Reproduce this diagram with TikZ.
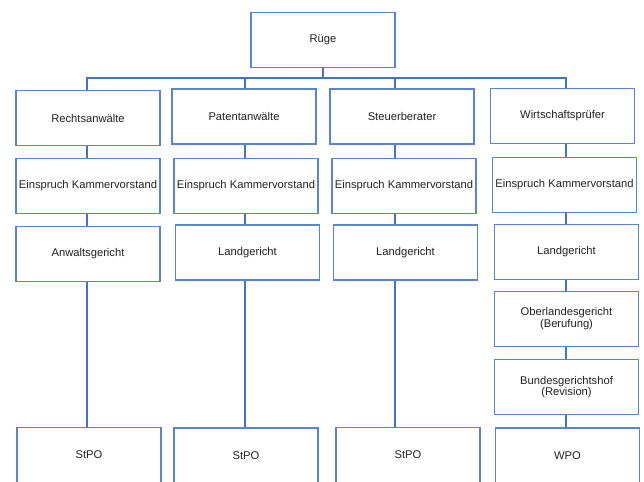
\documentclass[tikz,border=0pt]{standalone}
\usepackage{fontspec}
\setmainfont{Liberation Sans}
\definecolor{LinkBlue}{HTML}{4472C4}
\definecolor{BoxBlue}{HTML}{5A84D0}
\definecolor{Ink}{HTML}{222222}

\begin{document}
\begin{tikzpicture}[x=1pt,y=-1pt,
    every node/.style={font=\fontsize{11.2}{11.8}\selectfont,text=Ink},
    court/.style={draw=BoxBlue,fill=white,line width=1.1pt,
                  minimum width=144pt,minimum height=55pt,align=center,inner sep=1pt},
    link/.style={draw=LinkBlue,line width=2pt}]
    \useasboundingbox (0,0) rectangle (644,481);
    \clip (0,0) rectangle (644,481);

    % column lines
    \coordinate (l1) at (87,0);
    \coordinate (l2) at (245,0);
    \coordinate (l3) at (395,0);
    \coordinate (l4) at (566,0);
    \coordinate (bus) at (323,78);

    \node[court] (ruege) at (323,40) {Rüge};

    % Rechtsanwaelte
    \node[court] (ra)  at (88,118)   {Rechtsanwälte};
    \node[court] (ra1) at (88,186)   {Einspruch Kammervorstand};
    \node[court] (ra2) at (88,254)   {Anwaltsgericht};
    \node[court] (ra3) at (89,455)   {StPO};

    % Patentanwaelte
    \node[court] (pa)  at (244,116.5) {Patentanwälte};
    \node[court] (pa1) at (246,186)   {Einspruch Kammervorstand};
    \node[court] (pa2) at (247.5,252.5) {Landgericht};
    \node[court] (pa3) at (246,455.5) {StPO};

    % Steuerberater
    \node[court] (sb)  at (402,116.5) {Steuerberater};
    \node[court] (sb1) at (404,186)   {Einspruch Kammervorstand};
    \node[court] (sb2) at (405.5,252.5) {Landgericht};
    \node[court] (sb3) at (408,455)   {StPO};

    % Wirtschaftspruefer
    \node[court] (wp)  at (562.5,116) {Wirtschaftsprüfer};
    \node[court] (wp1) at (564.5,185) {Einspruch Kammervorstand};
    \node[court] (wp2) at (566.5,252) {Landgericht};
    \node[court] (wp3) at (566.5,319) {Oberlandesgericht\\(Berufung)};
    \node[court] (wp4) at (566.5,387) {Bundesgerichtshof\\(Revision)};
    \node[court] (wp5) at (567.5,455.5) {WPO};

    \draw[link] (ruege.south) -- (ruege.south |- bus);
    \draw[link] (l1 |- ra.north) |- (bus) -| (l4 |- wp.north);
    \draw[link] (l2 |- bus) -- (l2 |- pa.north);
    \draw[link] (l3 |- bus) -- (l3 |- sb.north);

    \foreach \a/\b/\l in {ra/ra1/l1,ra1/ra2/l1,ra2/ra3/l1,
                          pa/pa1/l2,pa1/pa2/l2,pa2/pa3/l2,
                          sb/sb1/l3,sb1/sb2/l3,sb2/sb3/l3,
                          wp/wp1/l4,wp1/wp2/l4,wp2/wp3/l4,wp3/wp4/l4,wp4/wp5/l4}
      \draw[link] (\l |- \a.south) -- (\l |- \b.north);
\end{tikzpicture}
\end{document}
